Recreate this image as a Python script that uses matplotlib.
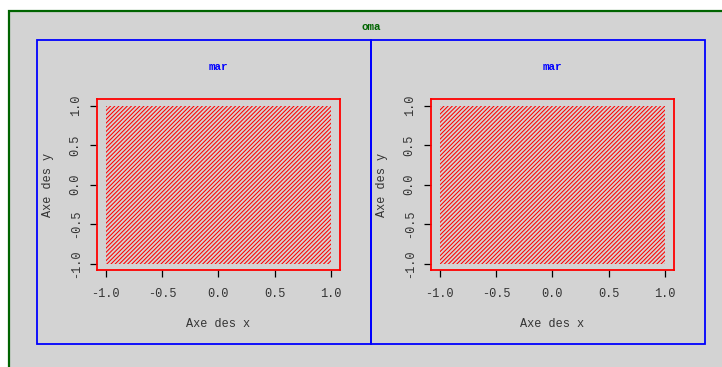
import matplotlib
matplotlib.use("Agg")
import matplotlib.pyplot as plt
from matplotlib.patches import Rectangle
import numpy as np

# Data
x_range = [-1.0, 1.0]
y_range = [-1.0, 1.0]
ticks = [-1.0, -0.5, 0.0, 0.5, 1.0]
tick_labels = ["-1.0", "-0.5", "0.0", "0.5", "1.0"]
panel_titles = ["mar", "mar"]
outer_title = "oma"
xlabel = "Axe des x"
ylabel = "Axe des y"

plt.rcParams['font.family'] = ['Liberation Mono', 'DejaVu Sans Mono']
plt.rcParams['axes.unicode_minus'] = False
plt.rcParams['hatch.linewidth'] = 0.75

W, H = 722, 367
fig = plt.figure(figsize=(W / 100, H / 100), dpi=100)
fig.patch.set_facecolor('white')

def fx(px):
    return px / W

def fy(py):
    return 1 - py / H

# outer (oma) region: gray with dark green border (right/bottom cut off)
fig.patches.append(Rectangle((fx(8.5), fy(400)), fx(760) - fx(8.5), fy(10.8) - fy(400),
                             transform=fig.transFigure, facecolor='#D3D3D3',
                             edgecolor='#006400', linewidth=1.6, zorder=-5))

fig.text(fx(371), fy(27), outer_title, color='#006400', fontsize=7.8,
         fontweight='bold', ha='center', va='center')

# figure regions (blue)
fig_left, fig_mid, fig_right = 37, 371, 705
fig_top, fig_bot = 40, 344
for a, b in [(fig_left, fig_mid), (fig_mid, fig_right)]:
    fig.patches.append(Rectangle((fx(a), fy(fig_bot)), fx(b) - fx(a), fy(fig_top) - fy(fig_bot),
                                 transform=fig.transFigure, facecolor='none',
                                 edgecolor='#0000FF', linewidth=1.3, zorder=-4))

# plot regions
plot_offsets = [0, 334]
box_l, box_r, box_t, box_b = 96.7, 340, 99.3, 270
for off, title in zip(plot_offsets, panel_titles):
    l = box_l + off
    r = box_r + off
    ax = fig.add_axes([fx(l), fy(box_b), fx(r) - fx(l), fy(box_t) - fy(box_b)])
    ax.set_zorder(2)
    ax.set_facecolor('none')
    ax.set_xlim(-1.08, 1.08)
    ax.set_ylim(-1.08, 1.08)
    ax.fill_between(x_range, [y_range[0]] * 2, [y_range[1]] * 2,
                    facecolor='none', edgecolor='#FF0000', hatch='////////', linewidth=0)
    for s in ax.spines.values():
        s.set_color('#FF0000')
        s.set_linewidth(1.3)
    ax.set_xticks(ticks)
    ax.set_xticklabels(tick_labels)
    ax.set_yticks(ticks)
    ax.set_yticklabels(tick_labels, rotation=90, va='center')
    ax.tick_params(axis='both', direction='out', length=4.8, width=0.9,
                   color='black', labelcolor='#333333', labelsize=8.6)
    ax.tick_params(axis='x', pad=8)
    ax.tick_params(axis='y', pad=6)
    ax.set_xlabel(xlabel, fontsize=8.6, color='#333333', labelpad=13)
    ax.set_ylabel(ylabel, fontsize=8.6, color='#333333', labelpad=11)
    fig.text(fx((l + r) / 2), fy(67), title, color='#0000FF', fontsize=7.8,
             fontweight='bold', ha='center', va='center')

fig.savefig('out.png', dpi=100)
